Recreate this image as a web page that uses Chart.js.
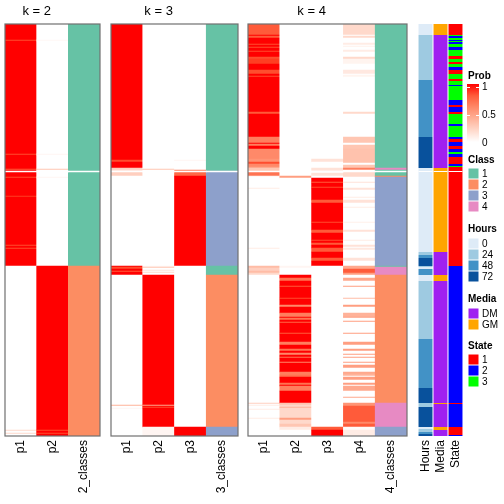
<!DOCTYPE html>
<html>
<head>
<meta charset="utf-8">
<script src="https://cdn.jsdelivr.net/npm/chart.js@4.4.1/dist/chart.umd.min.js"></script>
<style>
  html, body { margin: 0; padding: 0; background: #fff; }
  #wrap { position: relative; width: 504px; height: 504px; overflow: hidden; font-family: "Liberation Sans", Arial, sans-serif; }
  #wrap canvas { position: absolute; left: 0; top: 0; }
  .lg { position: absolute; font-size: 10px; line-height: 12px; color: #000; white-space: nowrap; }
  .lg.t { font-weight: bold; }
  .sw { position: absolute; left: 468px; width: 11px; }
</style>
</head>
<body>
<div id="wrap">
  <canvas id="k2" width="504" height="504"></canvas>
  <canvas id="k3" width="504" height="504"></canvas>
  <canvas id="k4" width="504" height="504"></canvas>
  <canvas id="ann" width="504" height="504"></canvas>
  <div id="legend"></div>
</div>
<script>
const FONT = "'Liberation Sans', Arial, sans-serif";
const N_ROWS = 412;

// each column: [startRow, value] runs, run ends where next one starts

// === k = 2 ===
const k2Labels = ["p1", "p2", "2_classes"];
const k2_p1 = [[0,1],[16,0.85],[17,1],[130,0.85],[131,1],[145,0.8],[146,1],[153,0.85],[154,1],[172,0.9],[173,1],[221,0.85],[222,1],[224,0.85],[225,1],[242,0],[406,0.2],[407,0],[409,0.2],[410,0]];
const k2_p2 = [[0,0],[16,0.04],[17,0],[130,0.05],[131,0],[145,0.3],[146,0],[153,0.05],[154,0],[242,1],[406,0.85],[407,1],[409,0.85],[410,1]];
const k2_classes = [[0,1],[242,2]];

// === k = 3 ===
const k3Labels = ["p1", "p2", "p3", "3_classes"];
const k3_p1 = [[0,1],[136,0.85],[138,1],[144,0.25],[146,0.15],[148,0.25],[152,0],[242,1],[243,0.85],[245,1],[247,0.8],[248,1],[251,0],[381,0.4],[382,0],[384,0.05],[385,0]];
const k3_p2 = [[0,0],[145,0.3],[146,0],[242,0.05],[243,0.3],[244,0],[246,0.15],[247,0],[248,0.2],[249,0],[251,1],[381,0.45],[382,1],[383,0.85],[384,1],[403,0.05]];
const k3_p3 = [[0,0],[136,0.05],[137,0],[146,0.65],[148,0.75],[152,1],[242,0],[403,1]];
const k3_classes = [[0,1],[147,3],[242,1],[251,2],[403,3]];

// === k = 4 ===
const k4Labels = ["p1", "p2", "p3", "p4", "4_classes"];
const k4_p1 = [[0,0.8],[11,1],[12,0.8],[14,1],[20,0.85],[21,1],[23,0.85],[24,1],[27,0.85],[28,1],[33,0.85],[35,0.9],[40,1],[46,0.85],[50,1],[52,0.85],[53,1],[88,0.8],[90,1],[113,0.65],[119,1],[120,0.65],[122,1],[125,0.6],[135,0.55],[138,0.85],[140,0.6],[143,0.5],[144,0.3],[148,0.7],[152,0.05],[153,0],[164,0.1],[165,0],[224,0.1],[225,0],[242,0.35],[244,0.25],[247,0.35],[249,0.2],[251,0],[379,0.25],[380,0],[381,0.1],[382,0],[385,0.1],[386,0],[394,0.1],[395,0]];
const k4_p2 = [[0,0],[152,0.5],[154,0],[242,0.05],[244,0],[251,1],[254,0.7],[257,1],[262,0.8],[263,1],[274,0.85],[275,1],[281,0.6],[283,1],[289,0.65],[293,1],[294,0.7],[296,1],[298,0.75],[299,1],[309,0.8],[310,1],[318,0.65],[321,1],[325,0.7],[327,1],[329,0.6],[331,1],[333,0.7],[334,1],[338,0.6],[339,1],[348,0.65],[351,0.7],[353,1],[359,0.7],[361,1],[362,0.65],[367,1],[379,0.3],[381,0.2],[383,0.4],[384,0.2],[394,0.5],[396,0.2],[400,0.3],[403,0.1],[406,0]];
const k4_p3 = [[0,0],[135,0.15],[138,0],[144,0.15],[147,0],[149,0.15],[152,0],[154,1],[158,0.8],[159,1],[163,0.85],[164,1],[176,0.8],[179,1],[198,0.85],[199,1],[206,0.8],[209,1],[216,0.85],[217,1],[219,0.8],[221,1],[224,0.8],[228,1],[234,0.8],[237,1],[242,0],[403,0.8],[406,1]];
const k4_p4 = [[0,0.2],[11,0],[12,0.2],[14,0],[19,0.1],[21,0],[22,0.08],[23,0],[26,0.1],[28,0],[33,0.2],[35,0.06],[40,0],[46,0.12],[50,0],[51,0.06],[53,0],[88,0.2],[90,0],[113,0.3],[119,0],[121,0.3],[125,0.32],[139,0],[141,0.3],[144,0.65],[146,0],[148,0.2],[153,0],[158,0.15],[159,0],[164,0.15],[166,0],[173,0.1],[174,0],[176,0.15],[179,0],[183,0.1],[184,0],[198,0.08],[199,0],[206,0.15],[208,0],[216,0.1],[217,0],[221,0.15],[223,0],[224,0.12],[226,0],[234,0.15],[237,0],[242,0.45],[245,0.8],[249,0.5],[251,0],[254,0.45],[257,0],[262,0.5],[263,0],[274,0.35],[275,0],[281,0.5],[283,0],[289,0.4],[293,0.5],[294,0],[297,0.5],[298,0],[309,0.5],[310,0],[318,0.5],[321,0],[325,0.5],[327,0],[330,0.5],[331,0],[333,0.5],[334,0],[338,0.5],[339,0],[341,0.5],[344,0],[348,0.45],[350,0.4],[352,0],[353,0.5],[356,0],[359,0.5],[361,0],[362,0.45],[367,0],[373,0.45],[374,0],[379,0.55],[382,0.8],[398,0.6],[400,0.8],[403,0.02],[406,0.1]];
const k4_classes = [[0,1],[144,4],[146,1],[152,2],[153,3],[242,1],[243,4],[251,2],[379,4],[403,3]];

// === annotations ===
const annLabels = ["Hours", "Media", "State"];
const hoursRuns = [[0,0],[11,24],[56,48],[113,72],[144,0],[228,24],[231,48],[234,72],[242,24],[243,0],[245,48],[251,0],[257,24],[315,48],[364,72],[379,24],[383,72],[403,0],[405,24],[408,48],[410,72]];
const mediaRuns = [[0,"GM"],[11,"DM"],[144,"GM"],[228,"DM"],[251,"GM"],[257,"DM"],[379,"GM"],[380,"DM"],[403,"GM"],[406,"DM"]];
const stateRuns = [[0,1],[11,3],[12,2],[14,3],[16,2],[17,3],[18,2],[20,3],[23,2],[26,3],[32,1],[35,3],[38,1],[40,3],[43,2],[46,1],[50,3],[55,1],[57,3],[61,2],[62,3],[76,2],[81,1],[83,2],[88,1],[90,3],[100,2],[102,3],[113,2],[115,1],[118,2],[122,1],[125,2],[128,3],[130,2],[133,1],[140,2],[142,3],[143,1],[242,2],[379,1],[380,2],[403,1],[411,2]];

const gapRows = [147];

// legend
const classKeys = ["1", "2", "3", "4"];
const classColors = ["#66C2A5", "#FC8D62", "#8DA0CB", "#E78AC3"];
const hoursKeys = ["0", "24", "48", "72"];
const hoursColors = ["#DEEBF7", "#9ECAE1", "#4292C6", "#08519C"];
const mediaKeys = ["DM", "GM"];
const mediaColors = ["#A020F0", "#FFA500"];
const stateKeys = ["1", "2", "3"];
const stateColors = ["#FF0000", "#0000FF", "#00FF00"];
const probTicks = ["1", "0.5", "0"];

// white -> red in LAB, like colorRamp2
function labToRgb(L, a, b) {
  let y = (L + 16) / 116, x = a / 500 + y, z = y - b / 200;
  const f = t => t ** 3 > 0.008856 ? t ** 3 : (t - 16 / 116) / 7.787;
  x = 0.95047 * f(x); y = f(y); z = 1.08883 * f(z);
  const r = x * 3.2406 - y * 1.5372 - z * 0.4986;
  const g = -x * 0.9689 + y * 1.8758 + z * 0.0415;
  const bl = x * 0.0557 - y * 0.2040 + z * 1.0570;
  const gam = c => c > 0.0031308 ? 1.055 * c ** (1 / 2.4) - 0.055 : 12.92 * c;
  return [r, g, bl].map(c => Math.round(Math.max(0, Math.min(1, gam(c))) * 255));
}
const RED_LAB = [53.24, 80.09, 67.2];
function probColor(v) {
  const [r, g, b] = labToRgb(100 + (RED_LAB[0] - 100) * v, RED_LAB[1] * v, RED_LAB[2] * v);
  return `rgb(${r},${g},${b})`;
}
const pick = (keys, colors) => v => colors[keys.indexOf(String(v))];
const classColor = pick(classKeys, classColors);

// === PLUGINS ===
const panelTitle = {
  id: "panelTitle",
  afterDraw(chart, args, opts) {
    if (!opts.text) return;
    const xs = chart.scales.x, ctx = chart.ctx;
    const x = (xs.getPixelForValue(0) + xs.getPixelForValue(opts.span - 1)) / 2;
    ctx.save();
    ctx.font = "13px " + FONT;
    ctx.fillStyle = "#000";
    ctx.textAlign = "center";
    ctx.textBaseline = "middle";
    ctx.fillText(opts.text, x, 11);
    ctx.restore();
  }
};
const panelBorder = {
  id: "panelBorder",
  afterDatasetsDraw(chart, args, opts) {
    if (!opts.show) return;
    const a = chart.chartArea, ctx = chart.ctx;
    ctx.save();
    ctx.strokeStyle = "#707070";
    ctx.lineWidth = 1.2;
    ctx.strokeRect(a.left, a.top, a.right - a.left, a.bottom - a.top);
    ctx.restore();
  }
};

function makePanel(id, o) {
  const points = [];
  o.columns.forEach((runs, i) => {
    runs.forEach(([start, v], j) => {
      const end = j + 1 < runs.length ? runs[j + 1][0] : N_ROWS;
      points.push({ x: o.labels[i], y: [start, end], v, col: i });
    });
  });
  gapRows.forEach(r => o.labels.forEach((l, i) => points.push({ x: l, y: [r, r + 1], v: null, col: i })));
  return new Chart(document.getElementById(id), {
    type: "bar",
    data: {
      labels: o.labels,
      datasets: [{
        data: points,
        backgroundColor: c => c.raw.v === null ? "#ffffff" : o.colorFns[c.raw.col](c.raw.v),
        borderWidth: 0,
        barPercentage: o.barPct,
        categoryPercentage: 1
      }]
    },
    options: {
      responsive: false,
      animation: false,
      events: [],
      layout: { padding: { left: o.left, right: 504 - o.right, top: 24, bottom: 0 } },
      plugins: {
        legend: { display: false },
        tooltip: { enabled: false },
        panelTitle: { text: o.title, span: o.span },
        panelBorder: { show: o.border }
      },
      scales: {
        x: {
          grid: { display: false, drawTicks: false },
          border: { display: false },
          ticks: { minRotation: 90, maxRotation: 90, autoSkip: false, padding: 4, color: "#000", font: { size: 12, family: FONT } },
          afterFit: s => { s.height = 68; }
        },
        y: { display: false, min: 0, max: N_ROWS, reverse: true }
      }
    },
    plugins: [panelTitle, panelBorder]
  });
}

// === CHARTS ===
makePanel("k2", { labels: k2Labels, columns: [k2_p1, k2_p2, k2_classes], colorFns: [probColor, probColor, classColor],
  left: 5, right: 100, title: "k = 2", span: 2, border: true, barPct: 1 });
makePanel("k3", { labels: k3Labels, columns: [k3_p1, k3_p2, k3_p3, k3_classes], colorFns: [probColor, probColor, probColor, classColor],
  left: 111, right: 238, title: "k = 3", span: 3, border: true, barPct: 1 });
makePanel("k4", { labels: k4Labels, columns: [k4_p1, k4_p2, k4_p3, k4_p4, k4_classes], colorFns: [probColor, probColor, probColor, probColor, classColor],
  left: 248, right: 407, title: "k = 4", span: 4, border: true, barPct: 1 });
makePanel("ann", { labels: annLabels, columns: [hoursRuns, mediaRuns, stateRuns],
  colorFns: [pick(hoursKeys, hoursColors), pick(mediaKeys, mediaColors), pick(stateKeys, stateColors)],
  left: 418, right: 463, title: "", span: 0, border: false, barPct: 0.93 });

// === LEGEND ===
const legend = document.getElementById("legend");
function addText(txt, left, cy, bold) {
  const d = document.createElement("div");
  d.className = "lg" + (bold ? " t" : "");
  d.textContent = txt;
  d.style.left = left + "px";
  d.style.top = (cy - 6) + "px";
  legend.appendChild(d);
}
function addGroup(title, keys, colors, titleY, top) {
  addText(title, 468, titleY, true);
  keys.forEach((k, i) => {
    const s = document.createElement("div");
    s.className = "sw";
    s.style.top = (top + i * 11) + "px";
    s.style.height = "11px";
    s.style.background = colors[i];
    s.style.boxShadow = "inset 0 0 0 0.5px #fff";
    legend.appendChild(s);
    addText(k, 482, top + i * 11 + 5.5, false);
  });
}
// prob gradient
addText("Prob", 468, 76, true);
const bar = document.createElement("div");
bar.className = "sw";
bar.style.top = "84px";
bar.style.height = "58px";
bar.style.width = "12px";
bar.style.left = "467px";
bar.style.background = "linear-gradient(to top," + [0, 0.2, 0.4, 0.6, 0.8, 1].map(probColor).join(",") + ")";
legend.appendChild(bar);
probTicks.forEach((t, i) => {
  const y = 87 + i * 28;
  addText(t, 482, y, false);
  [467, 476].forEach(x => {
    const m = document.createElement("div");
    m.style.cssText = `position:absolute;left:${x}px;top:${y}px;width:3px;height:1px;background:#fff;`;
    legend.appendChild(m);
  });
});
addGroup("Class", classKeys, classColors, 160, 168);
addGroup("Hours", hoursKeys, hoursColors, 229, 238);
addGroup("Media", mediaKeys, mediaColors, 299, 308);
addGroup("State", stateKeys, stateColors, 346, 354);
</script>
</body>
</html>
